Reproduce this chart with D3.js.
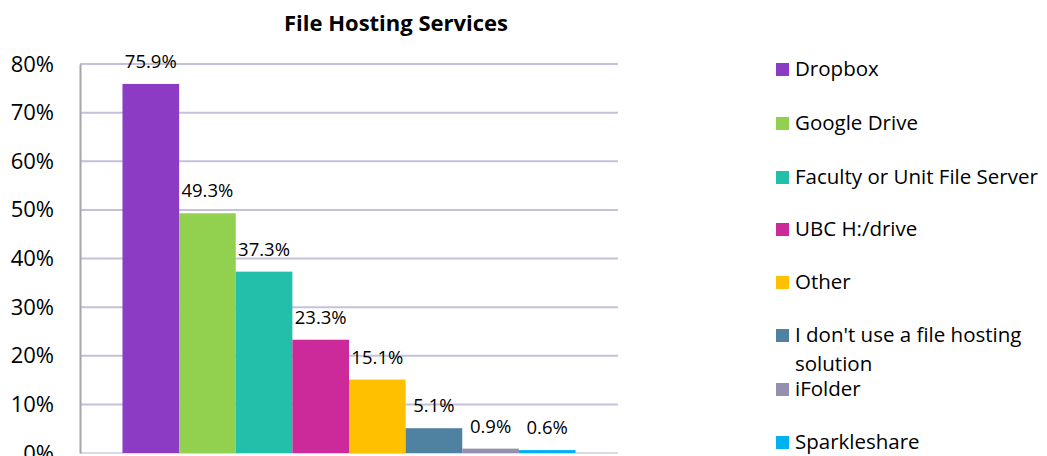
<!DOCTYPE html>
<html>
<head>
<meta charset="utf-8">
<script src="https://cdn.jsdelivr.net/npm/d3@7"></script>
<style>
  body { margin: 0; background: #fff; }
  text { font-family: "Open Sans", sans-serif; fill: #000; }
</style>
</head>
<body>
<svg width="1047" height="456"></svg>
<script>
// chart data
const services = ["Dropbox", "Google Drive", "Faculty or Unit File Server", "UBC H:/drive",
    "Other", "I don't use a file hosting solution", "iFolder", "Sparkleshare"];
const shares = [75.9, 49.3, 37.3, 23.3, 15.1, 5.1, 0.9, 0.6];
const colors = ["#8B3BC4", "#92D050", "#22BFAA", "#CC2A9A", "#FFC000", "#4F81A0", "#9590AD", "#00B0F0"];
const yTicks = [0, 10, 20, 30, 40, 50, 60, 70, 80];

const svg = d3.select("svg");
const plot = { left: 80, right: 618, top: 64, bottom: 453 };

const y = d3.scaleLinear().domain([0, 80]).range([plot.bottom, plot.top]);

// one category with 8 series, Excel-style gap of 150%
const x = d3.scaleBand()
    .domain(services)
    .range([plot.left, plot.right])
    .paddingInner(0)
    .paddingOuter(0.75);

// title
svg.append("text")
    .attr("x", 396)
    .attr("y", 31)
    .attr("text-anchor", "middle")
    .style("font-weight", "bold")
    .style("font-size", "22px")
    .text("File Hosting Services");

// gridlines
svg.append("g")
    .selectAll("line")
    .data(yTicks.filter(d => d > 0))
    .enter()
    .append("line")
    .attr("x1", plot.left)
    .attr("x2", plot.right)
    .attr("y1", d => y(d))
    .attr("y2", d => y(d))
    .attr("stroke", "#C3C2DA")
    .attr("stroke-width", 2);

// bottom line
svg.append("line")
    .attr("x1", plot.left).attr("x2", plot.right)
    .attr("y1", y(0)).attr("y2", y(0))
    .attr("stroke", "#DADAE6")
    .attr("stroke-width", 2);

// y axis
const yAxis = d3.axisLeft(y)
    .tickValues(yTicks)
    .tickSize(0)
    .tickPadding(26)
    .tickFormat(d => d + "%");

const ag = svg.append("g")
    .attr("transform", `translate(${plot.left},0)`)
    .call(yAxis);
ag.select(".domain").attr("stroke", "#A6A6A6").attr("stroke-width", 2);
ag.selectAll("text")
    .style("font-family", "'Open Sans', sans-serif")
    .style("font-size", "22px")
    .attr("fill", "#000");

// bars
svg.append("g")
    .selectAll("rect")
    .data(shares)
    .enter()
    .append("rect")
    .attr("x", (d, i) => x(services[i]))
    .attr("width", x.bandwidth())
    .attr("y", d => y(d))
    .attr("height", d => y(0) - y(d))
    .attr("fill", (d, i) => colors[i]);

// value labels
svg.append("g")
    .selectAll("text")
    .data(shares)
    .enter()
    .append("text")
    .attr("x", (d, i) => x(services[i]) + x.bandwidth() / 2)
    .attr("y", d => y(d) - 16)
    .attr("text-anchor", "middle")
    .style("font-size", "18.5px")
    .text(d => d.toFixed(1) + "%");

// legend
const legendLines = [["Dropbox"], ["Google Drive"], ["Faculty or Unit File Server"], ["UBC H:/drive"],
    ["Other"], ["I don't use a file hosting", "solution"], ["iFolder"], ["Sparkleshare"]];
const legendY = [69, 123, 177, 229, 282, 335, 389, 442];

const lg = svg.append("g");
legendLines.forEach((lines, i) => {
    lg.append("rect")
        .attr("x", 776)
        .attr("y", legendY[i] - 6)
        .attr("width", 13)
        .attr("height", 13)
        .attr("fill", colors[i]);
    lines.forEach((t, j) => {
        lg.append("text")
            .attr("x", 795)
            .attr("y", legendY[i] + 7 + j * 29)
            .style("font-size", "20.5px")
            .text(t);
    });
});
</script>
</body>
</html>
